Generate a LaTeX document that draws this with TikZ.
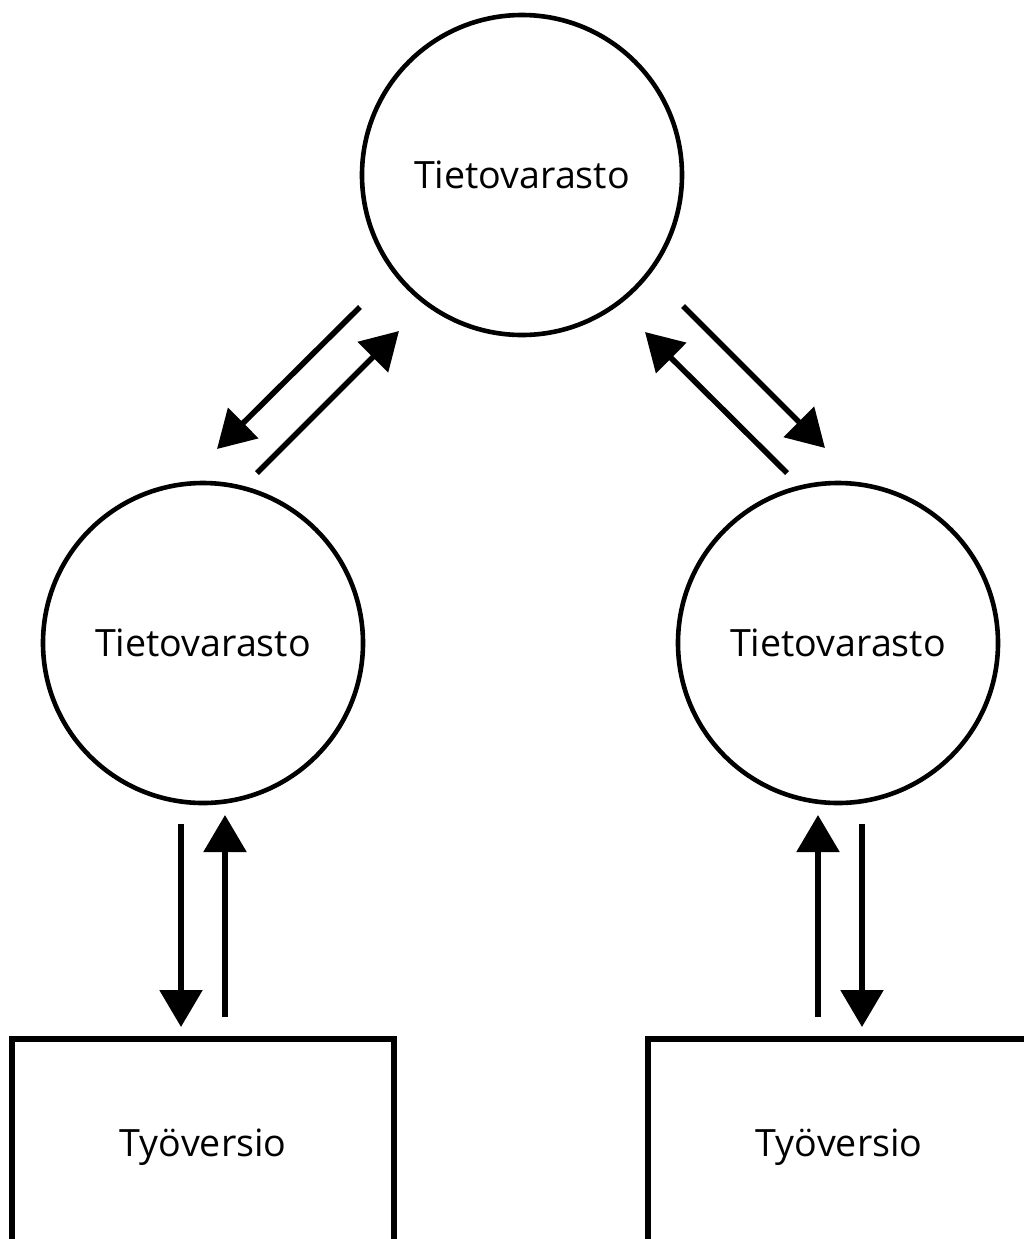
\documentclass[tikz,border=0pt]{standalone}
\usepackage{fontspec}
\setmainfont{Open Sans}
\usetikzlibrary{arrows.meta}

\tikzset{
  repo/.style={draw, circle, line width=2.3pt, minimum size=160pt, inner sep=0pt},
  work/.style={draw, rectangle, line width=2.8pt, minimum width=191pt, minimum height=104pt, inner sep=0pt, text depth=0pt},
  flow/.style={line width=2.8pt, -{Triangle[length=18.5pt, width=21pt]}}
}

\begin{document}
\begin{tikzpicture}[x=0.5pt, y=-0.5pt, font=\fontsize{18.8}{22}\selectfont]
      \useasboundingbox (0,0) rectangle (1024,1239);
      \clip (0,0) rectangle (1024,1239);

      % --- repositories ---
      \node[repo] (main) at (522,175) {Tietovarasto};
      \node[repo] (repoL) at (203,643) {Tietovarasto};
      \node[repo] (repoR) at (838,643) {Tietovarasto};

      % --- working copies (bottom cut off by the page) ---
      \node[work] (workL) at (203,1143) {Työversio};
      \node[work] (workR) at (839,1143) {Työversio};

      % arrow ends, placed off the node borders
      \coordinate (mainLout) at ([shift={(-162,132)}]main.center);
      \coordinate (mainLin)  at ([shift={(-123,156)}]main.center);
      \coordinate (mainRout) at ([shift={(161,131)}]main.center);
      \coordinate (mainRin)  at ([shift={(123,157)}]main.center);
      \coordinate (repoLin)  at ([shift={(14,-194)}]repoL.center);
      \coordinate (repoLout) at ([shift={(54,-170)}]repoL.center);
      \coordinate (repoRin)  at ([shift={(-13,-195)}]repoR.center);
      \coordinate (repoRout) at ([shift={(-51,-170)}]repoR.center);

      \coordinate (repoLdown) at ([shift={(-22,181)}]repoL.center);
      \coordinate (repoLup)   at ([shift={(22,172)}]repoL.center);
      \coordinate (workLin)   at ([shift={(-22,-116)}]workL.center);
      \coordinate (workLout)  at ([shift={(22,-126)}]workL.center);
      \coordinate (repoRup)   at ([shift={(-20,172)}]repoR.center);
      \coordinate (repoRdown) at ([shift={(24,181)}]repoR.center);
      \coordinate (workRout)  at ([shift={(-21,-126)}]workR.center);
      \coordinate (workRin)   at ([shift={(23,-116)}]workR.center);

      % main <-> left
      \draw[flow] (mainLout) -- (repoLin);
      \draw[flow] (repoLout) -- (mainLin);
      % main <-> right
      \draw[flow] (mainRout) -- (repoRin);
      \draw[flow] (repoRout) -- (mainRin);

      % left repo <-> working copy
      \draw[flow] (repoLdown) -- (workLin);
      \draw[flow] (workLout) -- (repoLup);
      % right repo <-> working copy
      \draw[flow] (workRout) -- (repoRup);
      \draw[flow] (repoRdown) -- (workRin);
\end{tikzpicture}
\end{document}
